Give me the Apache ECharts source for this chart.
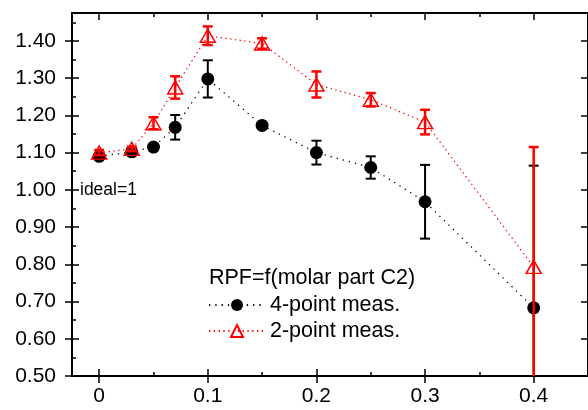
<!DOCTYPE html>
<html>
<head>
<meta charset="utf-8">
<script src="https://cdn.jsdelivr.net/npm/echarts@6/dist/echarts.min.js"></script>
<style>html,body{margin:0;padding:0;background:#fff}#c{width:588px;height:410px}</style>
</head>
<body>
<div id="c"></div>
<script>
// ---- data ----
var xValues = [0, 0.03, 0.05, 0.07, 0.1, 0.15, 0.2, 0.25, 0.3, 0.4];
var fourPoint = [1.090, 1.102, 1.115, 1.168, 1.298, 1.173, 1.100, 1.060, 0.968, 0.683];
var fourPointErr = [0.005, 0.006, 0.008, 0.033, 0.050, 0.008, 0.032, 0.030, 0.099, 0.382];
var twoPoint = [1.100, 1.110, 1.179, 1.275, 1.414, 1.393, 1.283, 1.242, 1.182, 0.793];
var twoPointErr = [0.007, 0.006, 0.016, 0.030, 0.025, 0.014, 0.035, 0.018, 0.033, 0.322];
var xMajorTicks = [0, 0.1, 0.2, 0.3, 0.4];
var xMinorTicks = [0.05, 0.15, 0.25, 0.35];
var yMajorTicks = [0.5, 0.6, 0.7, 0.8, 0.9, 1.0, 1.1, 1.2, 1.3, 1.4];
var yMinorTicks = [0.55, 0.65, 0.75, 0.85, 0.95, 1.05, 1.15, 1.25, 1.35, 1.45];
var legendTitle = 'RPF=f(molar part C2)';
var seriesNames = ['4-point meas.', '2-point meas.'];
var idealText = 'ideal=1';
var idealValue = 1.0;

var X_MIN = -0.025, X_MAX = 0.45, Y_MIN = 0.5, Y_MAX = 1.475;
var FONT = '"Liberation Sans", Arial, sans-serif';

function pairs(ys) { return xValues.map(function (x, i) { return [x, ys[i]]; }); }
function errs(ys, es) { return xValues.map(function (x, i) { return [x, ys[i], es[i]]; }); }

function xAx(pos, ticks, inside, len, label, line) {
  return {
    type: 'value', position: pos, min: X_MIN, max: X_MAX,
    axisLine: { show: !!line, onZero: false, lineStyle: { color: '#000', width: 2 } },
    axisTick: { show: true, inside: inside, length: len, customValues: ticks, lineStyle: { color: '#000', width: 1.5 } },
    axisLabel: label ? { show: true, customValues: ticks, color: '#000', fontSize: 21, fontFamily: FONT, margin: 10,
      formatter: function (v) { return String(Math.round(v * 10) / 10); } } : { show: false },
    splitLine: { show: false }
  };
}
function yAx(pos, ticks, inside, len, label, line) {
  return {
    type: 'value', position: pos, min: Y_MIN, max: Y_MAX,
    axisLine: { show: !!line, onZero: false, lineStyle: { color: '#000', width: 2 } },
    axisTick: { show: true, inside: inside, length: len, customValues: ticks, lineStyle: { color: '#000', width: 1.5 } },
    axisLabel: label ? { show: true, customValues: ticks, color: '#000', fontSize: 21, fontFamily: FONT, margin: 16,
      formatter: function (v) { return v.toFixed(2); } } : { show: false },
    splitLine: { show: false }
  };
}

function errRender(color, width) {
  return function (params, api) {
    var x = api.value(0), y = api.value(1), e = api.value(2);
    var top = api.coord([x, y + e]);
    var bot = api.coord([x, y - e]);
    var hw = 5;
    var st = { stroke: color, lineWidth: width };
    return {
      type: 'group',
      children: [
        { type: 'line', shape: { x1: top[0], y1: top[1], x2: bot[0], y2: bot[1] }, style: st },
        { type: 'line', shape: { x1: top[0] - hw, y1: top[1], x2: top[0] + hw, y2: top[1] }, style: st },
        { type: 'line', shape: { x1: bot[0] - hw, y1: bot[1], x2: bot[0] + hw, y2: bot[1] }, style: st }
      ]
    };
  };
}

var chart = echarts.init(document.getElementById('c'), null, { renderer: 'canvas' });
chart.setOption({
  animation: false,
  backgroundColor: '#fff',
  grid: { left: 72, top: 13, width: 523, height: 363, containLabel: false },
  title: {
    text: legendTitle, left: 209, top: 267, padding: 0,
    textStyle: { fontSize: 21.5, fontWeight: 'normal', color: '#000', fontFamily: FONT }
  },
  legend: {
    orient: 'vertical', left: 208, top: 294, padding: 0,
    itemWidth: 56, itemHeight: 15, itemGap: 4,
    textStyle: { fontSize: 21.5, color: '#000', fontFamily: FONT, lineHeight: 21 },
    data: seriesNames
  },
  xAxis: [
    xAx('bottom', xMajorTicks, false, 7, true, true),
    xAx('bottom', xMajorTicks, true, 7, false, false),
    xAx('bottom', xMinorTicks, true, 4, false, false),
    xAx('top', xMajorTicks, true, 7, false, true),
    xAx('top', xMinorTicks, true, 4, false, false)
  ],
  yAxis: [
    yAx('left', yMajorTicks, false, 7, true, true),
    yAx('left', yMajorTicks, true, 7, false, false),
    yAx('left', yMinorTicks, true, 4, false, false),
    yAx('right', yMajorTicks, true, 7, false, true)
  ],
  series: [
    {
      name: seriesNames[0], type: 'line', data: pairs(fourPoint),
      symbol: 'circle', symbolSize: 13,
      lineStyle: { color: '#000', width: 1.3, type: [1.3, 5] },
      itemStyle: { color: '#000' },
      z: 2,
      markPoint: {
        symbol: 'circle', symbolSize: 0,
        label: { show: true, position: 'right', distance: 8, formatter: idealText, color: '#000', fontSize: 17.5, fontFamily: FONT },
        data: [{ coord: [X_MIN, idealValue] }]
      }
    },
    {
      name: 'err4', type: 'custom', data: errs(fourPoint, fourPointErr),
      renderItem: errRender('#000', 2), clip: true, z: 3, silent: true
    },
    {
      name: seriesNames[1], type: 'line', data: pairs(twoPoint),
      symbol: 'triangle', symbolSize: [15, 13],
      lineStyle: { color: '#ff0000', width: 1.3, type: [1.3, 3.5] },
      itemStyle: { color: 'rgba(255,255,255,0)', borderColor: '#ff0000', borderWidth: 1.5 },
      z: 4
    },
    {
      name: 'err2', type: 'custom', data: errs(twoPoint, twoPointErr),
      renderItem: errRender('#ff0000', 2.5), clip: true, z: 5, silent: true
    }
  ]
});
</script>
</body>
</html>
